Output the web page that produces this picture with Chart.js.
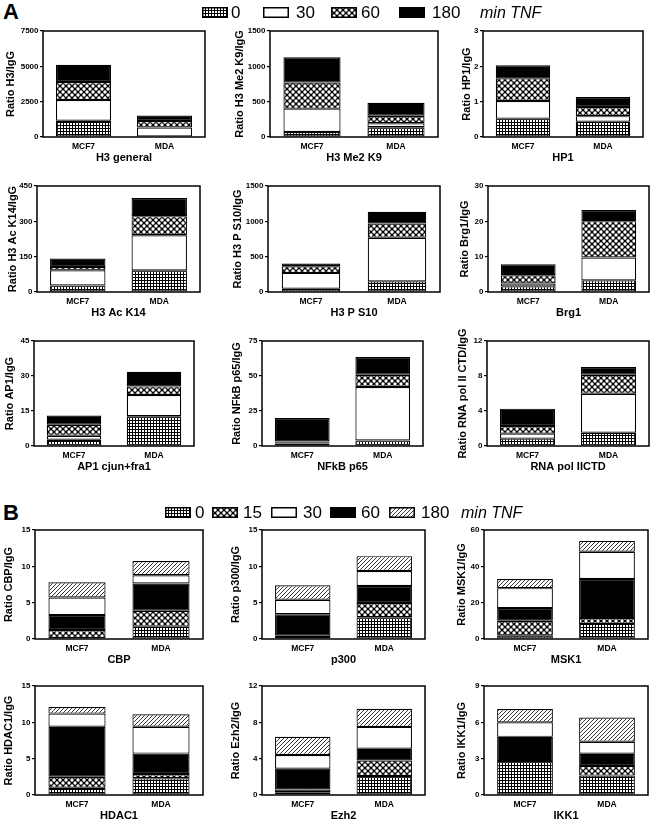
<!DOCTYPE html>
<html><head><meta charset="utf-8">
<script src="https://cdn.jsdelivr.net/npm/chart.js@4"></script>
<style>
html,body{margin:0;padding:0;background:#fff;}
body{width:651px;height:823px;overflow:hidden;position:relative;font-family:"Liberation Sans",Arial,sans-serif;}
canvas.pc{position:absolute;}
.plab{position:absolute;font-family:"Liberation Sans Narrow","Liberation Sans",Arial,sans-serif;font-weight:bold;font-size:22px;line-height:22px;}
.lt{position:absolute;font-size:17px;line-height:17px;white-space:nowrap;}
.lt.it{font-style:italic;font-size:16px;}
canvas.sw{position:absolute;}
</style></head><body>
<div class="plab" style="left:3px;top:1px;">A</div>
<div class="plab" style="left:3px;top:502px;">B</div>
<script>
// ---------- DATA ----------
const categories = ['MCF7', 'MDA'];
const seriesA = ['0', '30', '60', '180'];
const seriesB = ['0', '15', '30', '60', '180'];
const stackOrderB = ['0', '15', '60', '30', '180'];
const legendUnit = 'min TNF';

// Panel A values: one row per seriesA entry, columns = categories
const h3General = [[1150, 40], [1470, 630], [1270, 460], [1220, 390]];
const h3Me2K9   = [[70, 138], [331, 56], [369, 106], [359, 184]];
const hp1       = [[0.52, 0.43], [0.50, 0.16], [0.64, 0.26], [0.37, 0.28]];
const h3AcK14   = [[28, 92], [64, 149], [14, 81], [36, 77]];
const h3PS10    = [[47, 151], [223, 615], [94, 204], [38, 165]];
const brg1      = [[1.6, 3.3], [0.8, 6.45], [2.35, 10.3], [3.1, 3.15]];
const ap1       = [[2.7, 12.8], [1.7, 9.05], [4.7, 3.7], [3.95, 6.3]];
const nfkbP65   = [[1.7, 4.0], [0.7, 38.1], [0.9, 8.8], [16.7, 12.7]];
const rnaPolII  = [[0.84, 1.52], [0.57, 4.46], [0.88, 2.17], [1.98, 0.88]];

// Panel B values: one row per seriesB entry (0,15,30,60,180)
const cbp   = [[0.15, 1.69], [1.08, 2.19], [2.42, 1.14], [2.06, 3.75], [2.1, 1.96]];
const p300  = [[0.4, 3.0], [0.1, 1.95], [2.0, 2.05], [2.9, 2.35], [2.0, 2.05]];
const msk1  = [[2, 8.3], [8, 3.2], [11, 15], [7, 21.5], [5, 6]];
const hdac1 = [[1.0, 2.3], [1.5, 0.6], [1.8, 3.7], [6.9, 2.8], [0.9, 1.7]];
const ezh2  = [[0.3, 2.1], [0.3, 1.7], [1.5, 2.4], [2.3, 1.3], [2.0, 2.0]];
const ikk1  = [[2.8, 1.6], [0.0, 0.8], [1.2, 1.0], [2.0, 1.0], [1.1, 2.0]];

const dataA = [h3General, h3Me2K9, hp1, h3AcK14, h3PS10, brg1, ap1, nfkbP65, rnaPolII];
const dataB = [cbp, p300, msk1, hdac1, ezh2, ikk1];

const yMaxA  = [7500, 1500, 3, 450, 1500, 30, 45, 75, 12];
const yStepA = [2500, 500, 1, 150, 500, 10, 15, 25, 4];
const yMaxB  = [15, 15, 60, 15, 12, 9];
const yStepB = [5, 5, 20, 5, 4, 3];

const yTitlesA = ['Ratio H3/IgG', 'Ratio H3 Me2 K9/IgG', 'Ratio HP1/IgG',
  'Ratio H3 Ac K14/IgG', 'Ratio H3 P S10/IgG', 'Ratio Brg1/IgG',
  'Ratio AP1/IgG', 'Ratio NFkB p65/IgG', 'Ratio RNA pol II CTD/IgG'];
const xTitlesA = ['H3 general', 'H3 Me2 K9', 'HP1', 'H3 Ac K14', 'H3 P S10', 'Brg1',
  'AP1 cjun+fra1', 'NFkB p65', 'RNA pol IICTD'];
const yTitlesB = ['Ratio CBP/IgG', 'Ratio p300/IgG', 'Ratio MSK1/IgG',
  'Ratio HDAC1/IgG', 'Ratio Ezh2/IgG', 'Ratio IKK1/IgG'];
const xTitlesB = ['CBP', 'p300', 'MSK1', 'HDAC1', 'Ezh2', 'IKK1'];

// ---------- LAYOUT ----------
const cols = [[0, 218], [218, 445], [445, 651]];
// plot rectangles [left, top, right, bottom]
const rectsA = [
  [43, 31, 205, 137], [270, 31, 438, 137], [483, 31, 643, 137],
  [37, 186, 200, 292], [268, 186, 440, 292], [488, 186, 649, 292],
  [34, 341, 194, 446], [262, 341, 423, 446], [487, 341, 649, 446]
];
const rectsB = [
  [35, 530, 203, 639], [262, 530, 425, 639], [484, 530, 648, 639],
  [35, 686, 203, 795], [262, 686, 425, 795], [484, 686, 648, 795]
];
const yTitleXA = [11, 240, 467, 13, 238, 465, 10, 237, 463];
const yTitleXB = [9, 236, 462, 9, 236, 462];

// ---------- PATTERNS ----------
function tile(w, h, fn) {
  const c = document.createElement('canvas'); c.width = w; c.height = h;
  const g = c.getContext('2d'); fn(g, w, h); return c;
}
const tiles = {
  grid: tile(3, 3, (g, w, h) => { g.fillStyle = '#fff'; g.fillRect(0, 0, w, h); g.fillStyle = '#000'; g.fillRect(0, 0, w, 1); g.fillRect(0, 0, 1, h); }),
  check: tile(6, 6, (g, w, h) => { g.fillStyle = '#000'; g.fillRect(0, 0, w, h); g.fillStyle = '#fff';
    [[0,0],[6,0],[0,6],[6,6],[3,3]].forEach(([x,y]) => { g.beginPath(); g.arc(x, y, 1.7, 0, Math.PI*2); g.fill(); }); }),
  hatch: tile(4, 4, (g, w, h) => { g.fillStyle = '#fff'; g.fillRect(0, 0, w, h); g.strokeStyle = '#222'; g.lineWidth = 0.9;
    g.beginPath(); g.moveTo(-1, 5); g.lineTo(5, -1); g.moveTo(-1, 1); g.lineTo(1, -1); g.moveTo(3, 5); g.lineTo(5, 3); g.stroke(); })
};
const ctx0 = document.createElement('canvas').getContext('2d');
function fillFor(kind) {
  if (kind === 'white') return '#ffffff';
  if (kind === 'black') return '#000000';
  return ctx0.createPattern(tiles[kind], 'repeat');
}
const fillsA = { '0': 'grid', '30': 'white', '60': 'check', '180': 'black' };
const fillsB = { '0': 'grid', '15': 'check', '30': 'white', '60': 'black', '180': 'hatch' };

// ---------- CHARTS ----------
Chart.defaults.font.family = "'Liberation Sans', Arial, sans-serif";
Chart.defaults.font.weight = 'bold';
Chart.defaults.color = '#000';

const framePlugin = {
  id: 'frame',
  afterDraw(chart) {
    const { ctx, chartArea: a } = chart;
    ctx.save(); ctx.strokeStyle = '#000'; ctx.lineWidth = 1.5;
    ctx.strokeRect(a.left, a.top, a.right - a.left, a.bottom - a.top);
    ctx.restore();
  }
};

function makePanel(rect, col, order, labels, fills, values, yMax, yStep, yTitle, xTitle, yTitleX) {
  const [L, T, R, B] = rect;
  const cTop = T - 26, cBottom = B + 28;
  const cv = document.createElement('canvas');
  cv.className = 'pc';
  cv.width = col[1] - col[0]; cv.height = cBottom - cTop;
  cv.style.left = col[0] + 'px'; cv.style.top = cTop + 'px';
  document.body.appendChild(cv);
  const datasets = order.map(s => {
    const i = labels.indexOf(s);
    return {
      label: s + ' min', data: values[i],
      backgroundColor: fillFor(fills[s]), borderColor: '#000', borderWidth: 1.2, borderSkipped: false,
      barPercentage: 0.68, categoryPercentage: 1.0
    };
  });
  const yW = L - col[0];
  const xH = cBottom - B;
  const titleFont = 11;
  new Chart(cv, {
    type: 'bar',
    data: { labels: categories, datasets },
    options: {
      responsive: false, animation: false, events: [],
      layout: { padding: { left: 0, top: T - cTop, right: col[1] - R, bottom: 0 } },
      plugins: { legend: { display: false }, tooltip: { enabled: false } },
      scales: {
        x: {
          stacked: true,
          grid: { display: false, drawTicks: false },
          border: { display: false },
          ticks: { font: { size: 8.5, weight: 'bold' }, padding: 4.5, color: '#000' },
          title: { display: true, text: xTitle, font: { size: titleFont, weight: 'bold' }, padding: 0, color: '#000' },
          afterFit: s => { s.height = xH; }
        },
        y: {
          stacked: true, min: 0, max: yMax,
          grid: { drawOnChartArea: false, drawTicks: true, tickLength: 3, color: '#000', lineWidth: 1.2 },
          border: { display: false },
          ticks: { stepSize: yStep, font: { size: 8, weight: 'bold' }, padding: 1.5, color: '#000',
                   callback: v => String(v) },
          title: { display: true, text: yTitle, font: { size: titleFont, weight: 'bold' },
                   padding: { top: Math.max(0, yTitleX - col[0] - titleFont * 0.6), bottom: 0 }, color: '#000' },
          afterFit: s => { s.width = yW; }
        }
      }
    },
    plugins: [framePlugin]
  });
}

dataA.forEach((vals, i) => {
  makePanel(rectsA[i], cols[i % 3], seriesA, seriesA, fillsA, vals, yMaxA[i], yStepA[i], yTitlesA[i], xTitlesA[i], yTitleXA[i]);
});
dataB.forEach((vals, i) => {
  makePanel(rectsB[i], cols[i % 3], stackOrderB, seriesB, fillsB, vals, yMaxB[i], yStepB[i], yTitlesB[i], xTitlesB[i], yTitleXB[i]);
});

// ---------- LEGENDS ----------
function legend(series, fills, swX, txX, unitX, y) {
  series.forEach((s, i) => {
    const c = document.createElement('canvas');
    c.className = 'sw'; c.width = 26; c.height = 11;
    c.style.left = swX[i] + 'px'; c.style.top = (y - 5) + 'px';
    document.body.appendChild(c);
    const g = c.getContext('2d');
    const k = fills[s];
    g.fillStyle = k === 'white' ? '#fff' : k === 'black' ? '#000' : g.createPattern(tiles[k], 'repeat');
    g.fillRect(0, 0, 26, 11);
    g.strokeStyle = '#000'; g.lineWidth = 1.5; g.strokeRect(0.75, 0.75, 24.5, 9.5);
    const t = document.createElement('div');
    t.className = 'lt'; t.textContent = s;
    t.style.left = txX[i] + 'px'; t.style.top = (y - 8) + 'px';
    document.body.appendChild(t);
  });
  const u = document.createElement('div');
  u.className = 'lt it'; u.textContent = legendUnit;
  u.style.left = unitX + 'px'; u.style.top = (y - 8) + 'px';
  document.body.appendChild(u);
}
legend(seriesA, fillsA, [202, 263, 331, 399], [231, 296, 361, 432], 480, 12);
legend(seriesB, fillsB, [165, 212, 271, 330, 389], [195, 243, 303, 361, 421], 461, 512);
</script>
</body></html>
